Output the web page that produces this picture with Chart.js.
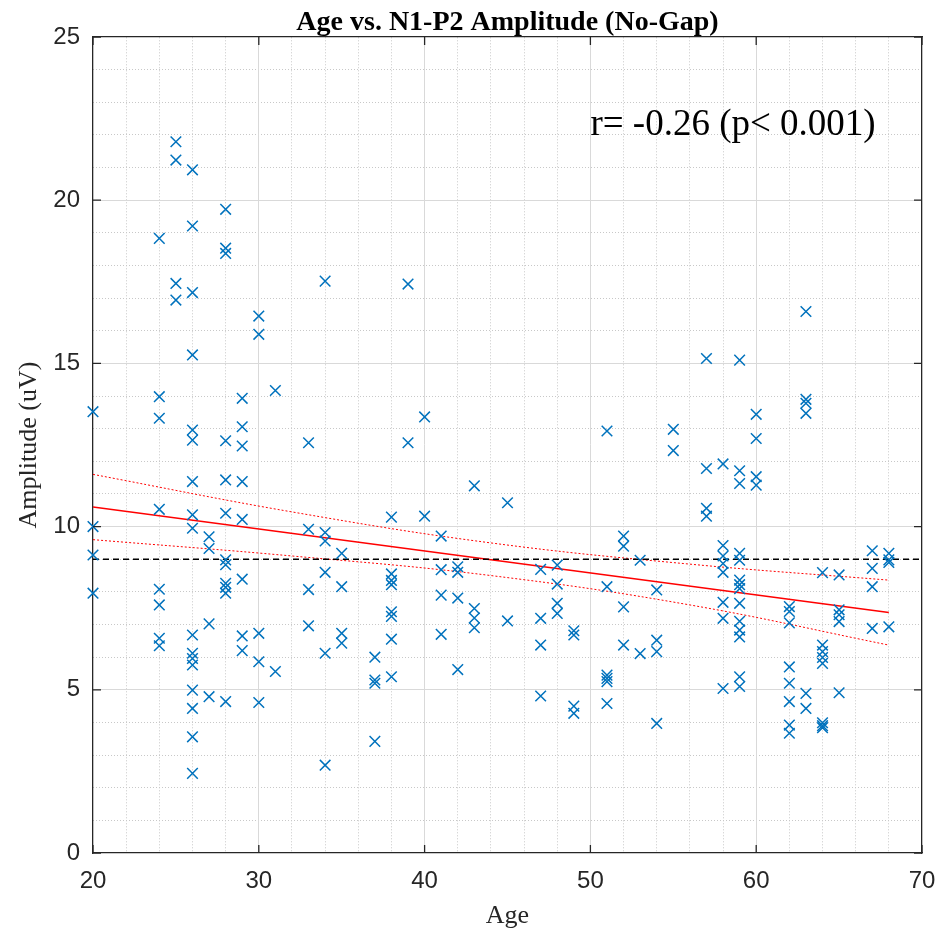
<!DOCTYPE html>
<html>
<head>
<meta charset="utf-8">
<script src="https://cdn.jsdelivr.net/npm/chart.js@4.4.1/dist/chart.umd.min.js"></script>
<style>
  body { margin: 0; background: #fff; }
  #wrap { width: 950px; height: 934px; }
</style>
</head>
<body>
<div id="wrap"><canvas id="ampChart"></canvas></div>
<script>
// one entry per subject: age and N1-P2 amplitude (uV)
const ages = [
  20, 20, 20, 20,
  24, 24, 24, 24, 24, 24, 24, 24,
  25, 25, 25, 25,
  26, 26, 26, 26, 26, 26, 26, 26, 26, 26, 26, 26, 26, 26, 26, 26, 26,
  27, 27, 27, 27,
  28, 28, 28, 28, 28, 28, 28, 28, 28, 28, 28, 28,
  29, 29, 29, 29, 29, 29, 29, 29,
  30, 30, 30, 30, 30,
  31, 31,
  33, 33, 33, 33,
  34, 34, 34, 34, 34, 34,
  35, 35, 35, 35,
  37, 37, 37, 37,
  38, 38, 38, 38, 38, 38, 38, 38,
  39, 39,
  40, 40,
  41, 41, 41, 41,
  42, 42, 42, 42,
  43, 43, 43, 43,
  45, 45,
  47, 47, 47, 47,
  48, 48, 48, 48,
  49, 49, 49, 49,
  51, 51, 51, 51, 51, 51,
  52, 52, 52, 52,
  53, 53,
  54, 54, 54, 54,
  55, 55,
  57, 57, 57, 57,
  58, 58, 58, 58, 58, 58, 58, 58,
  59, 59, 59, 59, 59, 59, 59, 59, 59, 59, 59, 59, 59, 59,
  60, 60, 60, 60,
  62, 62, 62, 62, 62, 62, 62, 62,
  63, 63, 63, 63, 63, 63,
  64, 64, 64, 64, 64, 64, 64, 64,
  65, 65, 65, 65, 65,
  67, 67, 67, 67,
  68, 68, 68, 68
];
const amplitudes = [
  13.52, 10.0, 9.13, 7.96,
  18.83, 13.98, 13.32, 10.53, 8.08, 7.6, 6.58, 6.35,
  21.79, 21.23, 17.45, 16.94,
  20.93, 19.21, 17.17, 15.26, 12.96, 12.65, 11.38, 10.36, 9.95, 6.68, 6.12, 5.96, 5.76, 4.99, 4.43, 3.56, 2.44,
  9.69, 9.33, 7.02, 4.79,
  19.72, 18.53, 18.37, 12.63, 11.43, 10.41, 8.98, 8.83, 8.26, 8.14, 7.96, 4.64,
  13.93, 13.06, 12.47, 11.38, 10.22, 8.39, 6.65, 6.2,
  16.45, 15.89, 6.73, 5.86, 4.61,
  14.17, 5.56,
  12.57, 9.92, 8.07, 6.96,
  17.52, 9.82, 9.56, 8.6, 6.12, 2.69,
  9.18, 8.16, 6.73, 6.43,
  6.0, 5.3, 5.2, 3.42,
  10.29, 8.55, 8.35, 8.22, 7.39, 7.25, 6.55, 5.4,
  17.43, 12.57,
  13.36, 10.32,
  9.71, 8.68, 7.9, 6.7,
  8.77, 8.6, 7.81, 5.62,
  11.25, 7.49, 7.2, 6.9,
  10.73, 7.11,
  8.69, 7.19, 6.37, 4.81,
  8.82, 8.24, 7.65, 7.34,
  6.81, 6.68, 4.5, 4.28,
  12.93, 8.16, 5.45, 5.35, 5.25, 4.58,
  9.71, 9.4, 7.54, 6.37,
  8.97, 6.11,
  8.06, 6.52, 6.17, 3.97,
  12.98, 12.33,
  15.15, 11.78, 10.56, 10.32,
  11.92, 9.42, 9.1, 8.87, 8.6, 7.68, 7.19, 5.04,
  15.1, 11.71, 11.32, 9.18, 8.97, 8.36, 8.22, 8.1, 7.65, 7.1, 6.83, 6.62, 5.4, 5.1,
  13.44, 12.7, 11.53, 11.27,
  7.55, 7.4, 7.05, 5.7, 5.2, 4.64, 3.92, 3.67,
  16.59, 13.9, 13.78, 13.47, 4.89, 4.43,
  8.59, 6.37, 6.17, 5.99, 5.81, 3.99, 3.9, 3.84,
  8.52, 7.45, 7.3, 7.09, 4.91,
  9.26, 8.72, 8.16, 6.88,
  9.18, 8.98, 8.9, 6.93
];

// regression line and its confidence band
const fitAges = [20, 68];
const fitAmps = [10.6, 7.37];
const bandAges = [20, 32, 44, 56, 68];
const bandUpper = [11.6, 10.45, 9.5, 8.85, 8.36];
const bandLower = [9.6, 9.1, 8.5, 7.6, 6.37];
// reference level
const refAges = [20, 70];
const refAmps = [9, 9];

const statText = 'r= -0.26 (p< 0.001)';
const titleText = 'Age vs. N1-P2 Amplitude (No-Gap)';

const toPoints = (xs, ys) => xs.map((x, i) => ({ x: x, y: ys[i] }));

const axisColor = '#262626';
const serif = '"Liberation Serif", "Times New Roman", serif';
const sans = '"Liberation Sans", Arial, Helvetica, sans-serif';

// MATLAB-ish inner tick marks, title and r/p label
const decorations = {
  id: 'decorations',
  afterDatasetsDraw(chart) {
    const { ctx, chartArea: a, scales } = chart;
    ctx.save();
    ctx.strokeStyle = axisColor;
    ctx.lineWidth = 1.3;
    ctx.beginPath();
    scales.x.ticks.forEach(t => {
      const px = scales.x.getPixelForValue(t.value);
      ctx.moveTo(px, a.bottom); ctx.lineTo(px, a.bottom - 8);
      ctx.moveTo(px, a.top); ctx.lineTo(px, a.top + 8);
    });
    scales.y.ticks.forEach(t => {
      const py = scales.y.getPixelForValue(t.value);
      ctx.moveTo(a.left, py); ctx.lineTo(a.left + 8, py);
      ctx.moveTo(a.right, py); ctx.lineTo(a.right - 8, py);
    });
    ctx.stroke();

    ctx.fillStyle = '#000';
    ctx.font = 'bold 28px ' + serif;
    ctx.textAlign = 'center';
    ctx.textBaseline = 'alphabetic';
    ctx.fillText(titleText, (a.left + a.right) / 2, 30);

    ctx.font = '37px ' + serif;
    ctx.textAlign = 'left';
    ctx.textBaseline = 'middle';
    ctx.fillText(statText, scales.x.getPixelForValue(50.0), scales.y.getPixelForValue(22.3));
    ctx.restore();
  }
};

const edgeHidden = (color) => (c) => {
  const s = c.scale;
  if (!c.tick) return color;
  return (c.tick.value === s.min || c.tick.value === s.max) ? 'rgba(0,0,0,0)' : color;
};

new Chart(document.getElementById('ampChart'), {
  type: 'scatter',
  data: {
    datasets: [
      {
        label: 'Data',
        data: toPoints(ages, amplitudes),
        pointStyle: 'crossRot',
        pointRadius: 7.5,
        borderColor: '#0072BD',
        backgroundColor: '#0072BD',
        pointBorderWidth: 1.5,
        clip: false
      },
      {
        label: 'Mean',
        data: toPoints(refAges, refAmps),
        showLine: true,
        pointRadius: 0,
        borderColor: '#000',
        borderWidth: 1.5,
        borderDash: [6, 4]
      },
      {
        label: 'Fit',
        data: toPoints(fitAges, fitAmps),
        showLine: true,
        pointRadius: 0,
        borderColor: '#ff0000',
        borderWidth: 1.6
      },
      {
        label: 'Upper',
        data: toPoints(bandAges, bandUpper),
        showLine: true,
        pointRadius: 0,
        borderColor: '#ff0000',
        borderWidth: 1,
        borderDash: [2, 2],
        tension: 0.4
      },
      {
        label: 'Lower',
        data: toPoints(bandAges, bandLower),
        showLine: true,
        pointRadius: 0,
        borderColor: '#ff0000',
        borderWidth: 1,
        borderDash: [2, 2],
        tension: 0.4
      }
    ]
  },
  options: {
    responsive: true,
    maintainAspectRatio: false,
    animation: false,
    layout: { padding: { top: 37, right: 28, left: 0, bottom: 0 } },
    plugins: {
      legend: { display: false },
      tooltip: { enabled: false }
    },
    scales: {
      xMinor: {
        type: 'linear', position: 'top', min: 20, max: 70,
        ticks: { display: false, stepSize: 2 },
        grid: { color: edgeHidden('#c8c8c8'), drawTicks: false },
        border: { color: axisColor, width: 1.3, dash: [1, 2] }
      },
      yMinor: {
        type: 'linear', position: 'right', min: 0, max: 25,
        ticks: { display: false, stepSize: 1 },
        grid: { color: edgeHidden('#c8c8c8'), drawTicks: false },
        border: { color: axisColor, width: 1.3, dash: [1, 2] }
      },
      x: {
        type: 'linear', position: 'bottom', min: 20, max: 70,
        ticks: { stepSize: 10, color: axisColor, padding: 14, font: { family: sans, size: 24 } },
        grid: { color: edgeHidden('#d9d9d9'), drawTicks: false },
        border: { color: axisColor, width: 1.3 },
        title: { display: true, text: 'Age', color: axisColor, font: { family: serif, size: 26 }, padding: { top: 0, bottom: 2 } },
        afterFit: s => { s.height = 81; }
      },
      y: {
        type: 'linear', position: 'left', min: 0, max: 25,
        ticks: { stepSize: 5, color: axisColor, padding: 13, font: { family: sans, size: 24 } },
        grid: { color: edgeHidden('#d9d9d9'), drawTicks: false },
        border: { color: axisColor, width: 1.3 },
        title: { display: true, text: 'Amplitude (uV)', color: axisColor, font: { family: serif, size: 26 }, padding: { top: 14, bottom: 0 } },
        afterFit: s => { s.width = 93; }
      }
    }
  },
  plugins: [decorations]
});
</script>
</body>
</html>
